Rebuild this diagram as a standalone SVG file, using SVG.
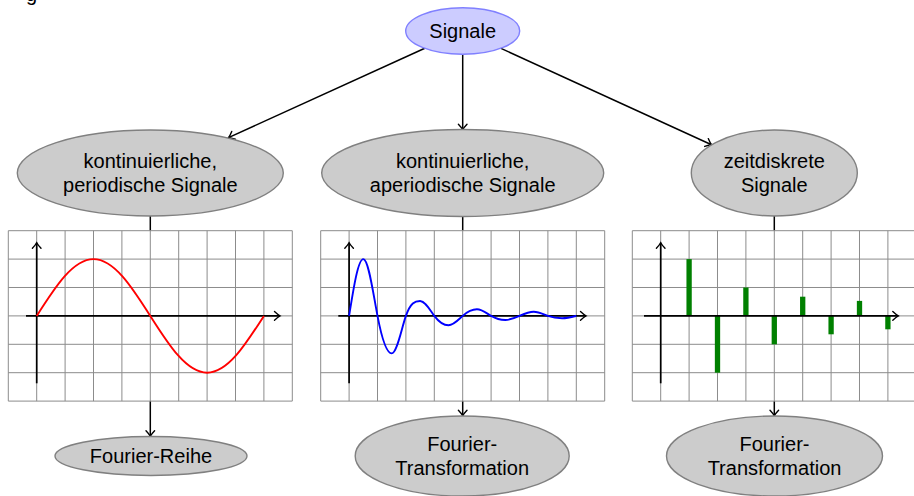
<svg xmlns="http://www.w3.org/2000/svg" xmlns:xlink="http://www.w3.org/1999/xlink" width="914" height="496" viewBox="0 0 914 496">
<style>
text{font-family:"Liberation Sans",Arial,sans-serif;font-size:20px;fill:#000;text-anchor:middle}
.gn{fill:#cccccc;stroke:#808080;stroke-width:1.4}
.bn{fill:#ccccff;stroke:#8080ff;stroke-width:1.4}
.grid{fill:none;stroke:#8c8c8c;stroke-width:1}
.ax{fill:none;stroke:#000;stroke-width:1.7;marker-end:url(#arr)}
.con{fill:none;stroke:#000;stroke-width:1.5}
.ca{fill:none;stroke:#000;stroke-width:1.5;marker-end:url(#arr)}
.bar{fill:#008000}
</style>
<defs>
<marker id="arr" markerUnits="userSpaceOnUse" markerWidth="14" markerHeight="14" viewBox="-8 -7 10 14" refX="0" refY="0" orient="auto" overflow="visible">
<path d="M-5.5,-4.3 Q-2,-1 0,0 Q-2,1 -5.5,4.3" fill="none" stroke="#000" stroke-width="1.4" stroke-linecap="round"/>
</marker>
<path id="gridp" class="grid" d="M0,0V170.4M28.4,0V170.4M56.8,0V170.4M85.2,0V170.4M113.6,0V170.4M142,0V170.4M170.4,0V170.4M198.8,0V170.4M227.2,0V170.4M255.6,0V170.4M284,0V170.4M0,0H284M0,28.4H284M0,56.8H284M0,85.2H284M0,113.6H284M0,142H284M0,170.4H284"/>
</defs>
<rect width="914" height="496" fill="#fff"/>
<text x="26" y="1" style="text-anchor:start">g</text>

<g id="connectors">
<path class="ca" d="M424.8,48.3L228.5,137.6"/>
<path class="ca" d="M462.7,54.3V129.8"/>
<path class="ca" d="M501,48.4L711.5,144.8"/>
<path class="con" d="M150.3,216V230.7"/>
<path class="con" d="M462.7,216.5V230.7"/>
<path class="con" d="M774.3,216V230.7"/>
<path class="ca" d="M150.3,401.1V436.3"/>
<path class="ca" d="M462.7,401.1V415.8"/>
<path class="ca" d="M774.3,401.1V415.8"/>
</g>

<g id="signale">
<ellipse class="bn" cx="462.7" cy="31" rx="57" ry="23.3"/>
<text x="462.7" y="38">Signale</text>
</g>

<g id="periodisch">
<ellipse class="gn" cx="150.3" cy="173" rx="133" ry="43"/>
<text x="150.3" y="168">kontinuierliche,</text>
<text x="150.3" y="192">periodische Signale</text>
</g>

<g id="aperiodisch">
<ellipse class="gn" cx="462.7" cy="173" rx="141" ry="43.5"/>
<text x="462.7" y="168">kontinuierliche,</text>
<text x="462.7" y="192">aperiodische Signale</text>
</g>

<g id="zeitdiskret">
<ellipse class="gn" cx="774.3" cy="173" rx="83" ry="43"/>
<text x="774.3" y="168">zeitdiskrete</text>
<text x="774.3" y="192">Signale</text>
</g>

<g id="plot-sinus">
<use xlink:href="#gridp" href="#gridp" transform="translate(8.3,230.7)"/>
<path class="ax" d="M36.7,383.3V242.7"/>
<path class="ax" d="M26,315.9H280"/>
<path fill="none" stroke="#ff0000" stroke-width="1.9" d="M36.7,315.9 C55.22,286.8 72.94,259.1 93.5,259.1 C114.06,259.1 131.78,286.8 150.3,315.9 C168.82,345.0 186.54,372.7 207.1,372.7 C227.66,372.7 245.38,345.0 263.9,315.9"/>
</g>

<g id="plot-gedaempft">
<use xlink:href="#gridp" href="#gridp" transform="translate(320.7,230.7)"/>
<path class="ax" d="M349.1,383.3V242.7"/>
<path class="ax" d="M338.3,315.9H586"/>
<path fill="none" stroke="#0000ff" stroke-width="1.9" d="M349.1,315.9 C353.73,286.8 358.16,259.1 363.3,259.1 C368.44,259.1 372.87,291.7 377.5,315.9 C382.13,340.1 386.56,353.4 391.7,353.4 C396.84,353.4 401.27,329.3 405.9,315.9 C410.53,302.5 414.96,301.0 420.1,301.0 C425.24,301.0 429.67,309.7 434.3,315.9 C438.93,322.1 443.36,325.3 448.5,325.3 C453.64,325.3 458.07,320.0 462.7,315.9 C467.33,311.8 471.76,309.3 476.9,309.3 C482.04,309.3 486.47,313.2 491.1,315.9 C495.73,318.6 500.16,320.0 505.3,320.0 C510.44,320.0 514.87,318.0 519.5,315.9 C524.13,313.8 528.56,311.7 533.7,311.7 C538.84,311.7 543.27,314.2 547.9,315.9 C552.53,317.6 556.96,318.3 562.1,318.3 C567.24,318.3 571.67,317.1 576.3,315.9"/>
</g>

<g id="plot-diskret">
<use xlink:href="#gridp" href="#gridp" transform="translate(632.3,230.7)"/>
<rect class="bar" x="686.45" y="259.1" width="5.3" height="56.8"/>
<rect class="bar" x="714.85" y="315.9" width="5.3" height="56.8"/>
<rect class="bar" x="743.25" y="287.5" width="5.3" height="28.4"/>
<rect class="bar" x="771.65" y="315.9" width="5.3" height="28.4"/>
<rect class="bar" x="800.05" y="296.7" width="5.3" height="19.2"/>
<rect class="bar" x="828.45" y="315.9" width="5.3" height="18.4"/>
<rect class="bar" x="856.85" y="300.9" width="5.3" height="15"/>
<rect class="bar" x="885.25" y="315.9" width="5.3" height="13.4"/>
<path class="ax" d="M660.7,383.3V242.7"/>
<path class="ax" d="M644,315.9H898.3"/>
</g>

<g id="fourier-reihe">
<ellipse class="gn" cx="151" cy="456" rx="96" ry="19.5"/>
<text x="151" y="463">Fourier-Reihe</text>
</g>

<g id="fourier-trafo-1">
<ellipse class="gn" cx="462.2" cy="456" rx="107" ry="40"/>
<text x="462.2" y="451">Fourier-</text>
<text x="462.2" y="475">Transformation</text>
</g>

<g id="fourier-trafo-2">
<ellipse class="gn" cx="774.5" cy="456" rx="108" ry="40"/>
<text x="774.5" y="451">Fourier-</text>
<text x="774.5" y="475">Transformation</text>
</g>
</svg>
